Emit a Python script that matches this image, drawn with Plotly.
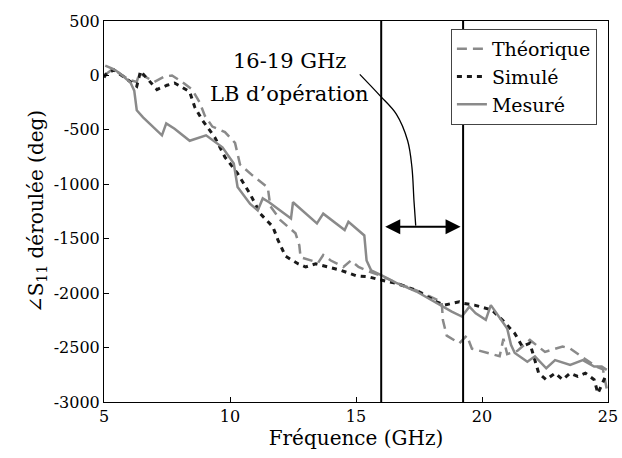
import plotly.graph_objects as go

# ---- data ----
theo_f = [5.0, 5.3, 5.6, 6.0, 6.3, 6.4, 6.7, 7.0, 7.4, 7.7, 8.1, 8.5, 8.8, 9.0, 9.3, 9.8, 10.2,
          10.4, 10.9, 11.5, 11.6, 12.0, 12.6, 12.75, 12.8, 13.2, 13.5, 13.7, 14.0, 14.5, 14.8,
          15.1, 15.5, 16.0, 16.6, 17.4, 18.0, 18.4, 18.45, 18.6, 19.1, 19.4, 19.6, 20.2, 20.7,
          20.85, 21.0, 21.4, 21.9, 22.5, 23.2, 23.5, 24.0, 24.5, 24.8, 24.95]
theo_v = [0, 50, 20, -40, -60, 20, -20, -60, -10, 0, -60, -130, -250, -370, -470, -520, -620,
          -820, -920, -1030, -1200, -1330, -1450, -1560, -1670, -1700, -1720, -1650, -1700, -1760, -1700,
          -1760, -1800, -1840, -1905, -1975, -2040, -2080, -2250, -2390, -2460, -2390, -2510, -2550, -2580,
          -2420, -2560, -2530, -2430, -2540, -2490, -2510, -2590, -2670, -2700, -2880]

sim_f = [5.0, 5.1, 5.4, 6.0, 6.3, 6.45, 6.8, 7.1, 7.5, 7.8, 8.1, 8.4, 8.6, 8.9, 9.4, 9.8, 10.3,
         10.8, 11.2, 11.7, 11.9, 12.2, 12.7, 13.0, 13.4, 13.9, 14.4, 15.0, 15.5, 16.0, 16.6,
         17.4, 18.2, 18.5, 18.8, 19.1, 19.3, 19.7, 20.4, 20.8, 21.3, 21.6, 21.9, 22.25, 22.55,
         22.9, 23.2, 23.5, 23.8, 24.1, 24.45, 24.6, 24.9]
sim_v = [-20, 20, 50, -50, -100, 40, -50, -130, -90, -70, -110, -150, -290, -410, -570, -750, -900,
         -1090, -1270, -1390, -1510, -1660, -1730, -1760, -1730, -1760, -1790, -1840, -1850, -1880, -1910,
         -1975, -2080, -2110, -2095, -2080, -2095, -2110, -2155, -2245, -2370, -2490, -2460, -2735, -2795,
         -2735, -2795, -2735, -2765, -2735, -2795, -2920, -2765]

mes_f = [5.05, 5.35, 5.6, 6.05, 6.2, 6.3, 6.55, 7.3, 7.47, 7.8, 8.4, 9.05, 9.7, 10.15, 10.3,
         10.8, 11.1, 11.3, 11.55, 11.9, 12.42, 12.5, 13.45, 13.7, 14.55, 14.7, 15.33, 15.42, 15.6,
         16.0, 16.6, 17.4, 18.2, 18.8, 19.2, 19.5, 19.75, 20.15, 20.35, 20.85, 21.0, 21.15, 21.3,
         21.8, 22.1, 22.55, 22.9, 23.5, 24.0, 24.45, 24.75, 24.95]
mes_v = [90, 60, 25, -65, -140, -320, -385, -550, -440, -490, -600, -550, -660, -810, -1025,
         -1180, -1240, -1130, -1165, -1225, -1315, -1165, -1360, -1270, -1420, -1345, -1470, -1700, -1790,
         -1835, -1905, -1985, -2095, -2170, -2215, -2125, -2185, -2245, -2110, -2280, -2325, -2475, -2550,
         -2630, -2580, -2690, -2615, -2660, -2615, -2675, -2675, -2705]

band_edges = [16.0, 19.25]          # vertical lines (GHz)
arrow_level = -1390                 # y of the double arrow
callout_x = [15.15, 15.95, 16.6, 17.05, 17.22, 17.3, 17.37]
callout_y = [10, -185, -355, -600, -845, -1150, -1380]

x_ticks = [5, 10, 15, 20, 25]
y_ticks = [500, 0, -500, -1000, -1500, -2000, -2500, -3000]
y_tick_labels = ["500", "0", "-500", "-1000", "-1500", "-2000", "-2500", "-3000"]

FONT = "DejaVu Serif"

fig = go.Figure()
fig.add_trace(go.Scatter(x=theo_f, y=theo_v, mode="lines", name="Théorique",
                         line=dict(color="#8a8a8a", width=2.5, dash="10px,6px")))
fig.add_trace(go.Scatter(x=sim_f, y=sim_v, mode="lines", name="Simulé",
                         line=dict(color="#1a1a1a", width=3, dash="5px,5px")))
fig.add_trace(go.Scatter(x=mes_f, y=mes_v, mode="lines", name="Mesuré",
                         line=dict(color="#8a8a8a", width=2.5)))
# callout curve
fig.add_trace(go.Scatter(x=callout_x, y=callout_y, mode="lines", showlegend=False,
                         line=dict(color="black", width=1.3, shape="spline"), hoverinfo="skip"))

for xe in band_edges:
    fig.add_shape(type="line", xref="x", yref="paper", x0=xe, x1=xe, y0=0, y1=1,
                  line=dict(color="black", width=2))

fig.add_annotation(x=band_edges[1] - 0.1, y=arrow_level, ax=band_edges[0] + 0.1, ay=arrow_level,
                   xref="x", yref="y", axref="x", ayref="y", text="", showarrow=True,
                   arrowhead=2, arrowsize=1.5, arrowwidth=2, arrowside="end+start", arrowcolor="black")
fig.add_annotation(x=12.35, y=130, xref="x", yref="y", text="16-19 GHz", showarrow=False,
                   font=dict(family=FONT, size=21, color="black"))
fig.add_annotation(x=12.35, y=-170, xref="x", yref="y", text="LB d’opération", showarrow=False,
                   font=dict(family=FONT, size=21, color="black"))

axis_common = dict(showline=True, linecolor="black", linewidth=1, mirror=True, automargin=False,
                   ticks="inside", ticklen=5, tickcolor="black", showgrid=False, zeroline=False,
                   tickfont=dict(family=FONT, size=16, color="black"))
fig.update_xaxes(range=[5, 25], tickvals=x_ticks,
                 title=dict(text="Fréquence (GHz)", font=dict(family=FONT, size=20, color="black"),
                            standoff=2), **axis_common)
fig.update_yaxes(range=[-3000, 500], tickvals=y_ticks, ticktext=y_tick_labels,
                 title=dict(text="∠S<sub>11</sub> déroulée (deg)",
                            font=dict(family=FONT, size=20, color="black"), standoff=4),
                 **axis_common)

fig.update_layout(
    width=622, height=458, autosize=False,
    margin=dict(l=104, r=14, t=21, b=56),
    paper_bgcolor="white", plot_bgcolor="white",
    font=dict(family=FONT),
    legend=dict(x=0.978, y=0.979, xanchor="right", yanchor="top",
                bordercolor="#444", borderwidth=1, bgcolor="white",
                font=dict(family=FONT, size=19, color="black"),
                tracegroupgap=0, itemwidth=30),
    showlegend=True,
)

fig.write_html("out.html")
